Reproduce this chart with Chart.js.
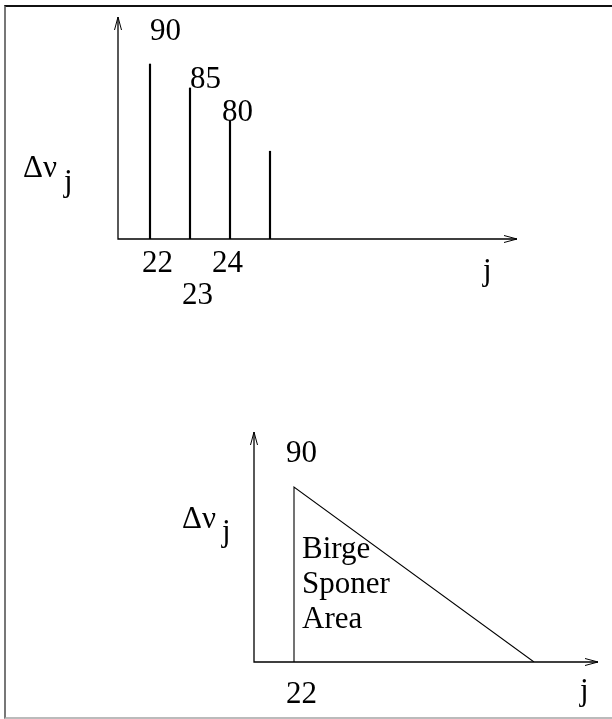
<!DOCTYPE html>
<html><head><meta charset="utf-8">
<script src="https://cdn.jsdelivr.net/npm/chart.js@4"></script>
<style>
html,body{margin:0;padding:0;background:#fff;}
body{width:612px;height:719px;overflow:hidden;position:relative;}
canvas{position:absolute;left:0;top:0;}
#frame{position:absolute;left:4px;top:5px;width:640px;height:714px;box-sizing:border-box;
 border-top:2px solid #111;border-left:2px solid #777;border-bottom:2px solid #bbb;}
</style></head>
<body>
<div id="frame"></div>
<canvas id="top" width="612" height="719"></canvas>
<canvas id="bottom" width="612" height="719"></canvas>
<script>
// ---- data ----
const jValues = [22, 23, 24, 25];
const spacingValues = [90, 85.8, 80, 74.7];
const spacingLabels = ['90', '85', '80', ''];
const tickJ = [22, 23, 24];
const tickLabels = ['22', '23', '24'];
const areaJ = [22, 22, 28];
const areaValues = [59.3, 90, 59.3];
const areaTopLabel = '90';
const areaTickLabel = '22';
const areaText = ['Birge', 'Sponer', 'Area'];
const yTitle = 'Δν';
const ySub = 'j';
const xTitle = 'j';
const Y_FLOOR = 59.3;

const FONT = '31px "Liberation Serif", "Times New Roman", serif';

function arrow(ctx, x, y, dx, dy) {
  const L = 13, W = 3.5;
  const px = -dy, py = dx;
  ctx.beginPath();
  ctx.moveTo(x - dx * L + px * W, y - dy * L + py * W);
  ctx.lineTo(x, y);
  ctx.lineTo(x - dx * L - px * W, y - dy * L - py * W);
  ctx.stroke();
}

const diagramPlugin = {
  id: 'diagram',
  afterDraw(chart, args, opts) {
    const ctx = chart.ctx, a = chart.chartArea;
    const xs = chart.scales.x, ys = chart.scales.y;
    ctx.save();
    ctx.strokeStyle = '#000';
    ctx.lineWidth = 1.3;
    ctx.beginPath();
    ctx.moveTo(a.left, a.top);
    ctx.lineTo(a.left, a.bottom);
    ctx.lineTo(a.right, a.bottom);
    ctx.stroke();
    ctx.lineWidth = 1;
    arrow(ctx, a.right, a.bottom, 1, 0);
    arrow(ctx, a.left, a.top, 0, -1);
    ctx.fillStyle = '#000';
    ctx.font = FONT;
    ctx.textAlign = 'left';
    ctx.textBaseline = 'alphabetic';
    (opts.texts || []).forEach(t => {
      const x = (t.xv !== undefined ? xs.getPixelForValue(t.xv) : a.left) + t.dx;
      const y = (t.yv !== undefined ? ys.getPixelForValue(t.yv) : a.bottom) + t.dy;
      ctx.fillText(t.text, x, y);
    });
    ctx.restore();
  }
};

// ---- top chart ----
const topTexts = [];
const valDx = [0, 0, -8], valDy = [-24, 0, 0];
spacingLabels.forEach((s, i) => {
  if (s) topTexts.push({text: s, xv: jValues[i], yv: spacingValues[i], dx: valDx[i], dy: valDy[i]});
});
const tickDx = [-8, -8, -18], tickDy = [33, 65, 33];
tickLabels.forEach((s, i) => topTexts.push({text: s, xv: tickJ[i], dx: tickDx[i], dy: tickDy[i]}));
topTexts.push({text: yTitle, dx: -95, dy: -62});
topTexts.push({text: ySub, dx: -54, dy: -48});
topTexts.push({text: xTitle, dx: 365, dy: 41});

new Chart(document.getElementById('top'), {
  type: 'bar',
  data: {
    datasets: [{
      data: jValues.map((j, i) => ({x: j, y: spacingValues[i]})),
      base: Y_FLOOR,
      barThickness: 1.5,
      backgroundColor: '#000',
      borderWidth: 0
    }]
  },
  options: {
    responsive: false,
    animation: false,
    devicePixelRatio: 1,
    layout: {padding: {left: 118, right: 95, top: 17, bottom: 480}},
    plugins: {legend: {display: false}, tooltip: {enabled: false}, diagram: {texts: topTexts}},
    scales: {
      x: {type: 'linear', min: 21.2, max: 31.175, offset: false, display: false},
      y: {min: Y_FLOOR, max: 98.25, display: false}
    }
  },
  plugins: [diagramPlugin]
});

// ---- bottom chart ----
const botTexts = [];
botTexts.push({text: areaTopLabel, xv: areaJ[1], yv: areaValues[1], dx: -8, dy: -25});
botTexts.push({text: areaTickLabel, xv: areaJ[0], dx: -8, dy: 41});
areaText.forEach((s, i) => botTexts.push({text: s, xv: areaJ[0], dx: 8, dy: -104 + 35 * i}));
botTexts.push({text: yTitle, dx: -72, dy: -134});
botTexts.push({text: ySub, dx: -32, dy: -121});
botTexts.push({text: xTitle, dx: 326, dy: 38});

new Chart(document.getElementById('bottom'), {
  type: 'line',
  data: {
    datasets: [{
      data: areaJ.map((j, i) => ({x: j, y: areaValues[i]})),
      borderColor: '#000',
      borderWidth: 1.1,
      pointRadius: 0,
      fill: false,
      tension: 0
    }]
  },
  options: {
    responsive: false,
    animation: false,
    devicePixelRatio: 1,
    layout: {padding: {left: 254, right: 14, top: 432, bottom: 57}},
    plugins: {legend: {display: false}, tooltip: {enabled: false}, diagram: {texts: botTexts}},
    scales: {
      x: {type: 'linear', min: 21, max: 29.6, display: false},
      y: {min: Y_FLOOR, max: 99.65, display: false}
    }
  },
  plugins: [diagramPlugin]
});
</script>
</body></html>
